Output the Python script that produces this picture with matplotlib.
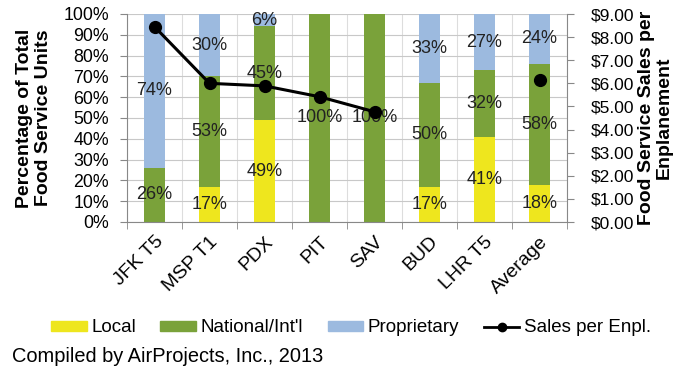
import numpy as np
import matplotlib
matplotlib.use("Agg")
import matplotlib.pyplot as plt
from matplotlib.lines import Line2D
from matplotlib.patches import Patch

plt.rcParams["font.family"] = ["Liberation Sans", "DejaVu Sans"]

# Data
airports = ["JFK T5", "MSP T1", "PDX", "PIT", "SAV", "BUD", "LHR T5", "Average"]
local = [0, 17, 49, 0, 0, 17, 41, 18]
national = [26, 53, 45, 100, 100, 50, 32, 58]
proprietary = [74, 30, 6, 0, 0, 33, 27, 24]
sales_line_idx = [0, 1, 2, 3, 4]
sales_line = [8.45, 6.0, 5.89, 5.42, 4.77]
sales_avg = 6.15

c_local = "#EEE61E"
c_nat = "#7AA23A"
c_prop = "#9CBADF"

fig = plt.figure(figsize=(6.81, 3.77), dpi=100)
ax = fig.add_axes([127 / 681, 1 - 222 / 377, 440 / 681, 208 / 377])
x = np.arange(len(airports))
w = 0.38

ax.bar(x, local, w, color=c_local, zorder=2)
ax.bar(x, national, w, bottom=local, color=c_nat, zorder=2)
bot2 = np.array(local) + np.array(national)
ax.bar(x, proprietary, w, bottom=bot2, color=c_prop, zorder=2)

# segment labels
for i in range(len(airports)):
    segs = [(0, local[i]), (local[i], national[i]), (bot2[i], proprietary[i])]
    for b, v in segs:
        if v > 0:
            ax.text(x[i], b + v / 2, f"{v}%", ha="center", va="center",
                    fontsize=13, color="#222222", zorder=4)

ax.set_xlim(-0.5, len(airports) - 0.5)
ax.set_ylim(0, 100)
ax.set_yticks(np.arange(0, 101, 10))
ax.set_yticklabels([f"{v}%" for v in range(0, 101, 10)], fontsize=12.8)
ax.set_xticks(x)
ax.set_xticklabels(airports, rotation=45, ha="right", rotation_mode="anchor", fontsize=14)
ax.set_xticks(np.arange(-0.5, len(airports)), minor=True)
ax.tick_params(axis="x", which="major", length=0, pad=8)
ax.tick_params(axis="x", which="minor", length=5, color="#888888")
ax.tick_params(axis="y", length=5, color="#888888", pad=8)
ax.grid(axis="y", color="#c8c8c8", linewidth=0.8, zorder=0)
ax.grid(axis="x", which="minor", color="#dddddd", linewidth=0.8, zorder=0)
for s in ["top", "right"]:
    ax.spines[s].set_visible(False)
ax.spines["left"].set_color("#888888")
ax.spines["bottom"].set_color("#888888")
ax.set_ylabel("Percentage of Total\nFood Service Units", fontsize=14,
              fontweight="bold", labelpad=8, linespacing=1.15)

ax2 = ax.twinx()
ax2.plot(sales_line_idx, sales_line, color="black", linewidth=2.2,
         marker="o", markersize=8.5, zorder=5)
ax2.plot([len(airports) - 1], [sales_avg], color="black", marker="o",
         markersize=8.5, linestyle="none", zorder=5)
ax2.set_ylim(0, 9)
ax2.set_yticks(np.arange(0, 9.1, 1))
ax2.set_yticklabels([f"${v:.2f}" for v in np.arange(0, 9.1, 1)], fontsize=12.5)
ax2.tick_params(axis="y", length=5, color="#888888", pad=12)
for s in ["top", "left", "bottom"]:
    ax2.spines[s].set_visible(False)
ax2.spines["right"].set_color("#888888")
ax2.set_ylabel("Food Service Sales per\nEnplanement", fontsize=14,
               fontweight="bold", rotation=90, labelpad=3, linespacing=1.05)

handles = [Patch(color=c_local), Patch(color=c_nat), Patch(color=c_prop),
           Line2D([0], [0], color="black", linewidth=2, marker="o", markersize=6)]
labels = ["Local", "National/Int'l", "Proprietary", "Sales per Enpl."]
fig.legend(handles, labels, loc="center", bbox_to_anchor=(351 / 681, 1 - 328 / 377),
           ncol=4, frameon=False, fontsize=13.5, handlelength=1.9, handleheight=0.45,
           handletextpad=0.25, columnspacing=1.3)

fig.text(12 / 681, 1 - 357 / 377, "Compiled by AirProjects, Inc., 2013",
         fontsize=14.4, va="center", ha="left")

fig.savefig("out.png", dpi=100)
